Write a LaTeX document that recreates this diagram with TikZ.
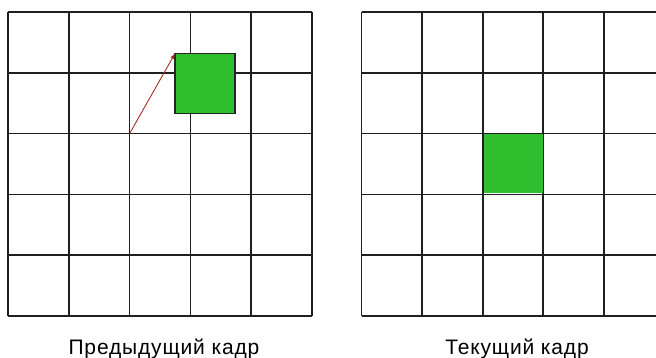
\documentclass[tikz,border=0pt]{standalone}
\usepackage{fontspec}
\setmainfont{Liberation Sans}
\begin{document}
\begin{tikzpicture}[x=1pt,y=-1pt,
  gridline/.style={line width=1.7pt,draw=black!88},
  greenbox/.style={draw=black!85,line width=1.3pt,fill={rgb,255:red,46;green,190;blue,46},minimum size=60pt,inner sep=0pt,outer sep=0pt},
  greencell/.style={draw=none,fill={rgb,255:red,46;green,190;blue,46},minimum size=59pt,inner sep=0pt,outer sep=0pt},
  motion/.style={draw={rgb,255:red,165;green,45;blue,35},line width=0.9pt,-latex},
  caption/.style={font=\fontsize{21}{25}\selectfont\addfontfeature{LetterSpace=4},anchor=base,inner sep=0pt}]
\useasboundingbox (0,0) rectangle (656,358);
\clip (0,0) rectangle (656,358);
% left grid
\foreach \i in {0,...,5} {
  \draw[gridline] (8+60.8*\i,12) -- (8+60.8*\i,316);
  \draw[gridline] (8,12+60.8*\i) -- (312,12+60.8*\i);
}
% right grid
\foreach \i in {0,...,5} {
  \draw[gridline] (361.5+60.6*\i,12) -- (361.5+60.6*\i,316);
  \draw[gridline] (361.5,12+60.8*\i) -- (670,12+60.8*\i);
}
% green squares
\node[greenbox] (prev) at (205,83.5) {};
\node[greencell] (cur) at (513,164) {};
\coordinate (start) at (129.6,133.6);
\draw[motion] (start) -- (prev.north west);
\node[caption] (lbl1) at (164,354) {Предыдущий кадр};
\node[caption] (lbl2) at (517,354) {Текущий кадр};
\end{tikzpicture}
\end{document}
